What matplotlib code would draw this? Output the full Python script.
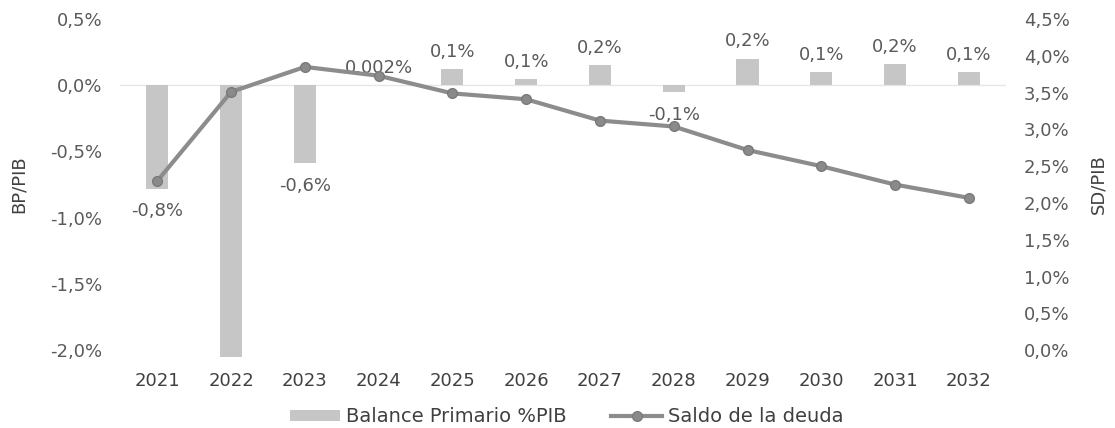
import matplotlib
matplotlib.use("Agg")
import matplotlib.pyplot as plt
from matplotlib.lines import Line2D
from matplotlib.patches import Patch
from matplotlib.ticker import FuncFormatter

plt.rcParams['font.family'] = ['DejaVu Sans']

years = ["2021", "2022", "2023", "2024", "2025", "2026", "2027", "2028", "2029", "2030", "2031", "2032"]
balance = [-0.78, -2.05, -0.59, 0.002, 0.12, 0.045, 0.15, -0.05, 0.2, 0.1, 0.16, 0.1]
balance_labels = ["-0,8%", "", "-0,6%", "0,002%", "0,1%", "0,1%", "0,2%", "-0,1%", "0,2%", "0,1%", "0,2%", "0,1%"]
deuda = [2.30, 3.51, 3.85, 3.73, 3.49, 3.41, 3.12, 3.04, 2.72, 2.50, 2.25, 2.07]
left_ticks = [0.5, 0.0, -0.5, -1.0, -1.5, -2.0]
right_ticks = [0.0, 0.5, 1.0, 1.5, 2.0, 2.5, 3.0, 3.5, 4.0, 4.5]

bar_color = "#c6c6c6"
line_color = "#8c8c8c"
text_color = "#5a5a5a"
fs = 13

fig = plt.figure(figsize=(11.15, 4.28), dpi=100)
ax = fig.add_axes([0.108, 0.182, 0.794, 0.7734])
x = list(range(len(years)))

ax.bar(x, balance, width=0.3, color=bar_color, zorder=2, clip_on=False)
ax.axhline(0, color="#e6e6e6", lw=1, zorder=1)
ax.set_ylim(-2.0, 0.5)
ax.set_xlim(-0.5, len(years) - 0.5)
ax.set_yticks(left_ticks)
ax.yaxis.set_major_formatter(FuncFormatter(lambda v, p: f"{v:.1f}%".replace(".", ",")))
ax.set_xticks(x)
ax.set_xticklabels(years)
ax.tick_params(axis="both", length=0, labelsize=fs, labelcolor="#404040")
ax.tick_params(axis="y", pad=13, labelcolor=text_color)
ax.tick_params(axis="x", pad=16)
for s in ax.spines.values():
    s.set_visible(False)
ax.set_ylabel("BP/PIB", fontsize=fs, color="#404040", labelpad=16)

# data labels
for i, (v, lab) in enumerate(zip(balance, balance_labels)):
    if not lab:
        continue
    if v >= 0:
        ax.annotate(lab, (i, v), xytext=(0, 6), textcoords="offset points",
                    ha="center", va="bottom", fontsize=fs, color=text_color)
    else:
        ax.annotate(lab, (i, v), xytext=(0, -10), textcoords="offset points",
                    ha="center", va="top", fontsize=fs, color=text_color)

ax2 = ax.twinx()
ax2.set_position([0.108, 0.182, 0.794, 0.7734])
ax2.plot(x, deuda, color=line_color, lw=3, marker="o", markersize=7,
         markerfacecolor="#8a8a8a", markeredgecolor="#7a7a7a", zorder=3)
ax2.set_ylim(0, 4.5)
ax2.set_yticks(right_ticks)
ax2.yaxis.set_major_formatter(FuncFormatter(lambda v, p: f"{v:.1f}%".replace(".", ",")))
ax2.tick_params(axis="y", length=0, labelsize=fs, labelcolor=text_color, pad=13)
for s in ax2.spines.values():
    s.set_visible(False)
ax2.set_ylabel("SD/PIB", fontsize=fs, color="#404040", labelpad=14)

handles = [Patch(facecolor=bar_color, edgecolor="none"),
           Line2D([0], [0], color=line_color, lw=3, marker="o", markersize=7,
                  markerfacecolor="#8a8a8a", markeredgecolor="#7a7a7a")]
fig.legend(handles, ["Balance Primario %PIB", "Saldo de la deuda"], loc="center",
           bbox_to_anchor=(0.508, 0.026), ncol=2, frameon=False, fontsize=14,
           labelcolor="#404040", handlelength=2.6, handleheight=0.5,
           columnspacing=2.3, handletextpad=0.3)

fig.savefig("out.png", dpi=100)
